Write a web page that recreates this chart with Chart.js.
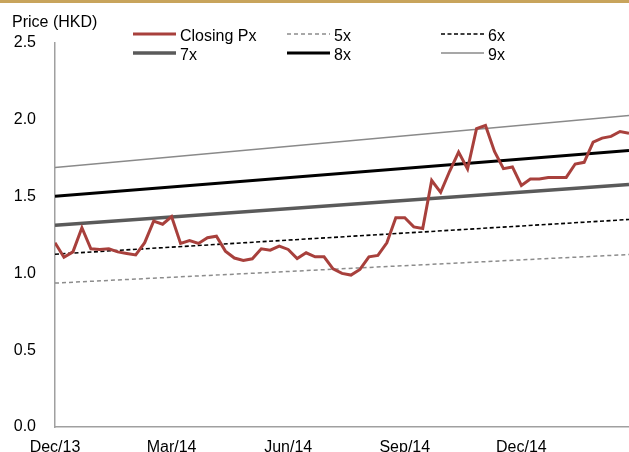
<!DOCTYPE html>
<html>
<head>
<meta charset="utf-8">
<title>Price (HKD)</title>
<script src="https://cdn.jsdelivr.net/npm/chart.js@4/dist/chart.umd.min.js"></script>
<style>
  html, body { margin: 0; padding: 0; background: #fff; overflow: hidden; }
  .topbar { position: absolute; left: 0; top: 0; width: 629px; height: 3px; background: #c8a45c; }
  .wrap { position: absolute; left: 0; top: 0; width: 629px; height: 452px; }
</style>
</head>
<body>
<div class="wrap"><canvas id="chart"></canvas></div>
<div class="topbar"></div>
<script>
// weekly closing price, Dec/13 onwards
const closingPx = [
  1.20, 1.105, 1.14, 1.297, 1.16, 1.155, 1.16, 1.14, 1.13, 1.12,
  1.20, 1.34, 1.32, 1.37, 1.195, 1.214, 1.195, 1.232, 1.242, 1.145,
  1.10, 1.084, 1.095, 1.16, 1.151, 1.177, 1.156, 1.097, 1.134, 1.108,
  1.108, 1.03, 1.00, 0.989, 1.026, 1.108, 1.117, 1.199, 1.362, 1.362,
  1.303, 1.292, 1.605, 1.528, 1.665, 1.79, 1.68, 1.942, 1.963, 1.794,
  1.682, 1.693, 1.573, 1.615, 1.615, 1.625, 1.625, 1.625, 1.712, 1.723,
  1.855, 1.881, 1.892, 1.924, 1.913
];

// P/E band lines: value at first and last week
const bandNames = ['5x', '6x', '7x', '8x', '9x'];
const bandStart = [0.937, 1.125, 1.314, 1.502, 1.69];
const bandEnd = [1.123, 1.351, 1.578, 1.80, 2.028];

const tickLabels = ['Dec/13', 'Mar/14', 'Jun/14', 'Sep/14', 'Dec/14'];
const tickWeeks = [0, 13, 26, 39, 52];

const lastWeek = closingPx.length - 1;

const bandStyles = [
  { color: '#8c8c8c', width: 1.5, dash: [4, 3] },
  { color: '#000000', width: 1.6, dash: [4, 2.5] },
  { color: '#5a5a5a', width: 3.5, dash: [] },
  { color: '#000000', width: 3, dash: [] },
  { color: '#8a8a8a', width: 1.5, dash: [] }
];

Chart.defaults.font.family = '"Liberation Sans", Arial, sans-serif';
Chart.defaults.font.size = 16;
Chart.defaults.color = '#000';

const datasets = [{
  label: 'Closing Px',
  data: closingPx.map((v, i) => ({ x: i, y: v })),
  borderColor: '#a8403c',
  borderWidth: 3,
  pointRadius: 0,
  tension: 0
}];

bandNames.forEach((name, i) => {
  datasets.push({
    label: name,
    data: [{ x: 0, y: bandStart[i] }, { x: lastWeek, y: bandEnd[i] }],
    borderColor: bandStyles[i].color,
    borderWidth: bandStyles[i].width,
    borderDash: bandStyles[i].dash,
    pointRadius: 0
  });
});

// title + 3 column legend
const legendGrid = {
  id: 'legendGrid',
  afterDraw(chart) {
    const ctx = chart.ctx;
    ctx.save();
    ctx.font = '16px "Liberation Sans", Arial, sans-serif';
    ctx.fillStyle = '#000';
    ctx.textBaseline = 'alphabetic';
    ctx.fillText('Price (HKD)', 12, 27);
    chart.data.datasets.forEach((ds, i) => {
      const x = 133 + (i % 3) * 154;
      const y = 34 + Math.floor(i / 3) * 19;
      ctx.strokeStyle = ds.borderColor;
      ctx.lineWidth = ds.borderWidth;
      ctx.setLineDash(ds.borderDash || []);
      ctx.beginPath();
      ctx.moveTo(x, y);
      ctx.lineTo(x + 43, y);
      ctx.stroke();
      ctx.setLineDash([]);
      ctx.fillText(ds.label, x + 47, y + 7);
    });
    ctx.restore();
  }
};

new Chart(document.getElementById('chart'), {
  type: 'line',
  data: { datasets },
  options: {
    responsive: true,
    maintainAspectRatio: false,
    animation: false,
    layout: { padding: { left: 14, top: 43, right: 0, bottom: 0 } },
    plugins: {
      legend: { display: false },
      tooltip: { enabled: false }
    },
    scales: {
      x: {
        type: 'linear',
        min: 0,
        max: lastWeek,
        grid: { display: false, drawTicks: false },
        border: { color: '#a0a0a0', width: 1.5 },
        afterBuildTicks: scale => {
          scale.ticks = tickWeeks.map(v => ({ value: v }));
        },
        afterFit: scale => {
          scale.height = 25;
          scale.paddingLeft = 0;
          scale.paddingRight = 0;
        },
        ticks: {
          autoSkip: false,
          maxRotation: 0,
          padding: 11,
          callback: v => tickLabels[tickWeeks.indexOf(v)] || ''
        }
      },
      y: {
        min: 0,
        max: 2.5,
        grid: { display: false, drawTicks: false },
        border: { color: '#a0a0a0', width: 1.5 },
        afterFit: scale => {
          scale.width = 41;
          scale.paddingTop = 0;
          scale.paddingBottom = 0;
        },
        ticks: {
          stepSize: 0.5,
          padding: 19,
          callback: v => v.toFixed(1)
        }
      }
    }
  },
  plugins: [legendGrid]
});
</script>
</body>
</html>
